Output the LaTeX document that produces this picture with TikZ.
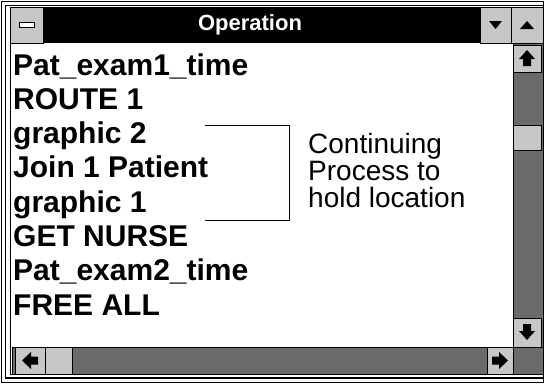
\documentclass[tikz,border=0pt]{standalone}
\usepackage{fontspec}
\setmainfont{Liberation Sans}
\usetikzlibrary{positioning}

\begin{document}
\begin{tikzpicture}[x=1pt,y=-1pt,
  btn/.style={draw=black,line width=1pt,fill=black!22},
  track/.style={draw=black,line width=1pt,fill=black!58},
  item/.style={anchor=base west,inner sep=0pt,font=\fontsize{30}{36}\selectfont\bfseries},
  note/.style={anchor=base west,inner sep=0pt,font=\fontsize{28}{34}\selectfont}]
\useasboundingbox (0,0) rectangle (545,384);

% frame and client area
\draw[line width=1.3pt] (1.5,1.5) rectangle (543.5,382.5);
\draw[line width=1.1pt] (5.5,5.5) rectangle (543.5,378);
\draw[line width=1pt,fill=white] (10,7) rectangle (543,374);

% title bar
\fill[black] (43,7) rectangle (480,43);
\draw[btn] (10,7) rectangle (43,43);
\draw[fill=white,line width=1pt] (19,22) rectangle (34,27);
\draw[btn] (480,7) rectangle (511,43);
\fill (489,21) -- (502,21) -- (495.5,29) -- cycle;
\draw[btn] (511,7) rectangle (543,43);
\fill (520,29) -- (534,29) -- (527,21) -- cycle;
\node[text=white,font=\fontsize{22}{26}\selectfont\bfseries] (title) at (250,25) {Operation};

% vertical scroll bar
\draw[track] (513,43) rectangle (543,347);
\draw[btn] (513,45) rectangle (541,72);
\fill (527,50) -- (535,59) -- (531,59) -- (531,66) -- (523,66) -- (523,59) -- (519,59) -- cycle;
\draw[btn] (513,125) rectangle (541,150);
\draw[btn] (513,318) rectangle (541,347);
\fill (527,340) -- (535,331) -- (531,331) -- (531,324) -- (523,324) -- (523,331) -- (519,331) -- cycle;

% horizontal scroll bar
\draw[track] (12,347) rectangle (513,374);
\draw[btn] (15,347) rectangle (45,374);
\fill (22,360.5) -- (31,352) -- (31,356.5) -- (38,356.5) -- (38,364.5) -- (31,364.5) -- (31,369) -- cycle;
\draw[btn] (45,347) rectangle (72,374);
\draw[btn] (487,347) rectangle (513,374);
\fill (508,360.5) -- (499,352) -- (499,356.5) -- (492,356.5) -- (492,364.5) -- (499,364.5) -- (499,369) -- cycle;
\draw[track] (513,347) rectangle (543,374);

% operation list
\node[item] (op1) at (13,75) {Pat\_exam1\_time};
\node[item] (op2) at (13,109.3) {ROUTE 1};
\node[item] (op3) at (13,143.6) {graphic 2};
\node[item] (op4) at (13,177.9) {Join 1 Patient};
\node[item] (op5) at (13,212.2) {graphic 1};
\node[item] (op6) at (13,246.5) {GET NURSE};
\node[item] (op7) at (13,280.8) {Pat\_exam2\_time};
\node[item] (op8) at (13,315) {FREE ALL};

% bracket and note
\coordinate (brtop) at (205,125);
\coordinate (brbot) at (205,220);
\draw[line width=1pt] (brtop) -- ++(84,0) |- (brbot);
\node[note] (note1) at (308,153) {Continuing};
\node[note] (note2) at (308,180) {Process to};
\node[note] (note3) at (308,207) {hold location};
\end{tikzpicture}
\end{document}
